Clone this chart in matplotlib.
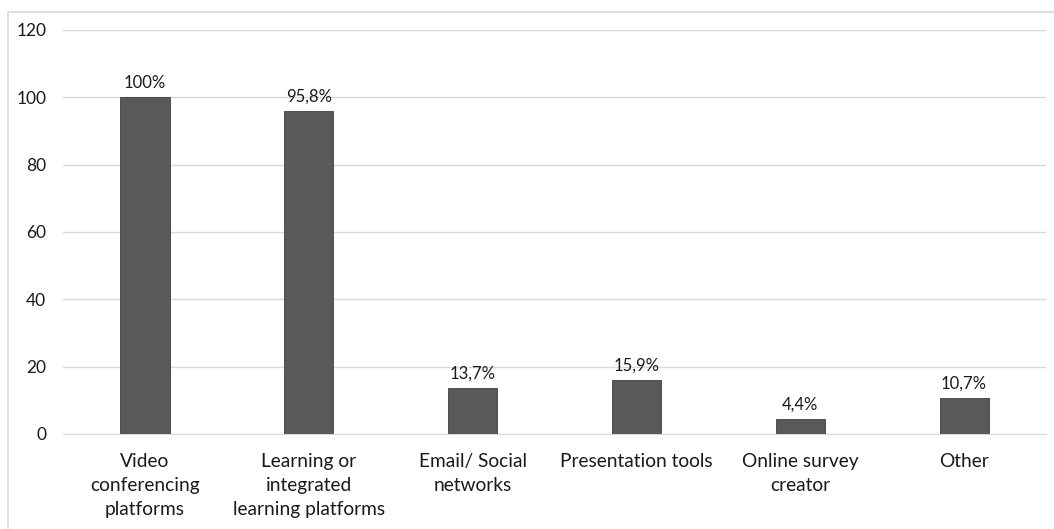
import matplotlib.pyplot as plt
from matplotlib.patches import Rectangle

categories = ['Video\nconferencing\nplatforms', 'Learning or\nintegrated\nlearning platforms',
              'Email/ Social\nnetworks', 'Presentation tools', 'Online survey\ncreator', 'Other']
values = [100, 95.8, 13.7, 15.9, 4.4, 10.7]
value_labels = ['100%', '95,8%', '13,7%', '15,9%', '4,4%', '10,7%']
yticks = [0, 20, 40, 60, 80, 100, 120]

plt.rcParams['font.family'] = ['Lato', 'DejaVu Sans']

fig = plt.figure(figsize=(10.54, 5.29), dpi=100)
ax = fig.add_axes([0.0598, 0.1796, 0.9326, 0.7637])

# chart frame
fig.patches.append(Rectangle((8/1054, -0.1), 1.2, 1 - 12/529 + 0.1, transform=fig.transFigure,
                             fill=False, edgecolor='#d9d9d9', linewidth=1.2))

x = range(len(categories))
bars = ax.bar(x, values, width=0.3, color='#595959', edgecolor='#404040', linewidth=0.6, zorder=3)
for b, lab in zip(bars, value_labels):
    ax.text(b.get_x() + b.get_width()/2, b.get_height() + 2.0, lab,
            ha='center', va='bottom', fontsize=12, color='#1a1a1a')

ax.set_xlim(-0.5, len(categories) - 0.5)
ax.set_ylim(0, 120)
ax.set_yticks(yticks)
ax.set_xticks(list(x))
ax.set_xticklabels(categories, fontsize=13.8, color='#1a1a1a', linespacing=1.5)
ax.tick_params(axis='y', labelsize=12.5, colors='#1a1a1a', length=0, pad=12)
ax.tick_params(axis='x', length=0, pad=14)
ax.grid(axis='y', color='#d9d9d9', linewidth=1, zorder=0)
for s in ['top', 'right', 'left']:
    ax.spines[s].set_visible(False)
ax.spines['bottom'].set_color('#d9d9d9')

fig.savefig('out.png', dpi=100)
